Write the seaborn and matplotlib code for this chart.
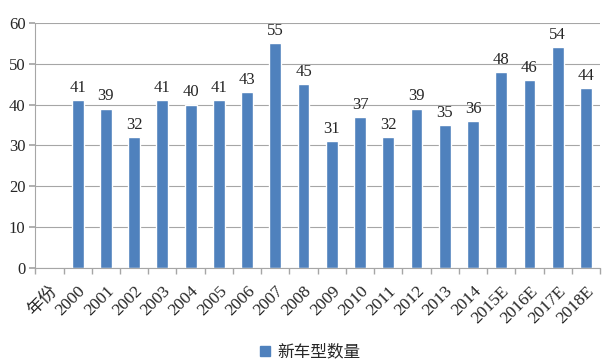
import matplotlib
matplotlib.use("Agg")
import matplotlib.pyplot as plt
import seaborn as sns
import pandas as pd
import numpy as np

categories = ["年份", "2000", "2001", "2002", "2003", "2004", "2005", "2006", "2007", "2008",
              "2009", "2010", "2011", "2012", "2013", "2014", "2015E", "2016E", "2017E", "2018E"]
values = [np.nan, 41, 39, 32, 41, 40, 41, 43, 55, 45, 31, 37, 32, 39, 35, 36, 48, 46, 54, 44]
series_name = "新车型数量"
yticks = [0, 10, 20, 30, 40, 50, 60]

sns.set_theme(style="white")
plt.rcParams['font.family'] = ['Liberation Serif', 'Noto Sans CJK SC']

df = pd.DataFrame({"cat": categories, "val": values})

fig = plt.figure(figsize=(6.08, 3.63), dpi=100)
ax = fig.add_axes([0.058, 0.262, 0.929, 0.675])
color = "#4F81BD"
sns.barplot(data=df, x="cat", y="val", color=color, width=0.42,
            ax=ax, saturation=1, order=categories)

ax.set_ylim(0, 60)
ax.set_yticks(yticks)
ax.set_xlim(-0.5, len(categories) - 0.5)
ax.yaxis.grid(True, color="#A6A6A6", linewidth=0.8)
ax.set_axisbelow(True)
for s in ["top", "right"]:
    ax.spines[s].set_visible(False)
for s in ["left", "bottom"]:
    ax.spines[s].set_color("#A6A6A6")
    ax.spines[s].set_linewidth(0.8)

for p in ax.patches:
    h = p.get_height()
    if h is None or np.isnan(h) or p.get_width() == 0:
        continue
    ax.annotate(f"{int(round(h))}", (p.get_x() + p.get_width() / 2, h),
                xytext=(0, 3), textcoords="offset points", ha="center", va="bottom", fontsize=12)

ax.set_xlabel("")
ax.set_ylabel("")
ax.tick_params(axis="y", labelsize=12, left=True, length=4, color="#A6A6A6", pad=3)
ax.set_xticks(range(len(categories)))
ax.set_xticklabels(categories, rotation=45, ha="right", rotation_mode="anchor", fontsize=12.5)
ax.tick_params(axis="x", bottom=False, pad=5)
ax.set_xticks(np.arange(-0.5, len(categories), 1), minor=True)
ax.tick_params(axis="x", which="minor", bottom=True, length=4, color="#A6A6A6")

fig.legend(handles=[plt.Rectangle((0, 0), 1, 1, color=color)], labels=[series_name],
           loc="lower center", bbox_to_anchor=(0.51, -0.035), frameon=False, fontsize=12,
           handlelength=0.6, handleheight=0.6, handletextpad=0.4)

fig.savefig("out.png", dpi=100)
